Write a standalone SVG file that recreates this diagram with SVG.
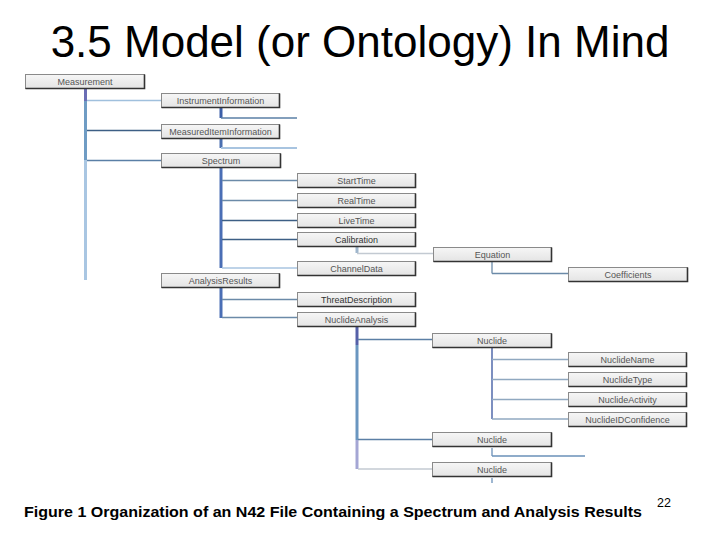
<svg xmlns="http://www.w3.org/2000/svg" width="720" height="540" viewBox="0 0 720 540">
<defs>
<linearGradient id="bg" x1="0" y1="0" x2="0" y2="1">
<stop offset="0" stop-color="#f6f6f6"/>
<stop offset="1" stop-color="#e4e4e4"/>
</linearGradient>
</defs>
<style>
.box{fill:url(#bg);stroke:#8a8a8a;stroke-width:1}
.sh{fill:none;stroke:#333;stroke-width:1.6}
.lb{font-family:"Liberation Sans",Arial,sans-serif;font-size:9px;fill:#555;text-anchor:middle}
.lbd{fill:#333}
.c{fill:none}
.t3{stroke-width:3}
.t2{stroke-width:2}
.t1{stroke-width:1.3}
</style>
<rect width="720" height="540" fill="#fff"/>
<text x="360" y="57" font-family="'Liberation Sans',Arial,sans-serif" font-size="44" fill="#000" text-anchor="middle">3.5 Model (or Ontology) In Mind</text>

<g id="connectors" class="c">
<line x1="85.5" y1="88" x2="85.5" y2="101" stroke="#6a6db5" class="t3"/>
<line x1="85.5" y1="101" x2="85.5" y2="160" stroke="#6f9cc4" class="t3"/>
<line x1="85.5" y1="160" x2="85.5" y2="280" stroke="#a9c6e2" class="t3"/>
<line x1="87" y1="100.5" x2="161" y2="100.5" stroke="#a0c0dd" class="t1"/>
<line x1="87" y1="130.5" x2="161" y2="130.5" stroke="#3d5f85" class="t1"/>
<line x1="87" y1="160.5" x2="161" y2="160.5" stroke="#5a7fa6" class="t1"/>
<line x1="221" y1="108" x2="221" y2="118" stroke="#3c5fa8" class="t3"/>
<line x1="221" y1="118" x2="297" y2="118" stroke="#5a7fa6" class="t1"/>
<line x1="221" y1="139" x2="221" y2="148" stroke="#4a6fb0" class="t3"/>
<line x1="221" y1="148" x2="297" y2="148" stroke="#a8c4e0" class="t2"/>
<line x1="221" y1="168" x2="221" y2="268" stroke="#4a6eb5" class="t3"/>
<line x1="222" y1="180.5" x2="297" y2="180.5" stroke="#6b8aa8" class="t1"/>
<line x1="222" y1="200.5" x2="297" y2="200.5" stroke="#6b8aa8" class="t1"/>
<line x1="222" y1="220.5" x2="297" y2="220.5" stroke="#3d5f85" class="t1"/>
<line x1="222" y1="239.5" x2="297" y2="239.5" stroke="#3d5f85" class="t1"/>
<line x1="222" y1="268" x2="297" y2="268" stroke="#a8c4e0" class="t1"/>
<line x1="357" y1="247" x2="357" y2="253" stroke="#9fb6cc" class="t3"/>
<line x1="357" y1="253.5" x2="433" y2="253.5" stroke="#c3cad2" class="t1"/>
<line x1="492" y1="262" x2="492" y2="273.5" stroke="#6b8aa8" class="t1"/>
<line x1="492" y1="273.5" x2="568" y2="273.5" stroke="#6b8aa8" class="t1"/>
<line x1="221" y1="288" x2="221" y2="318" stroke="#4a6eb5" class="t3"/>
<line x1="222" y1="299.5" x2="297" y2="299.5" stroke="#6b8aa8" class="t1"/>
<line x1="222" y1="317.5" x2="297" y2="317.5" stroke="#6b8aa8" class="t1"/>
<line x1="357" y1="327" x2="357" y2="345" stroke="#5560a8" class="t3"/>
<line x1="357" y1="345" x2="357" y2="440" stroke="#6a96c0" class="t3"/>
<line x1="357" y1="440" x2="357" y2="469" stroke="#a4a6d4" class="t3"/>
<line x1="358" y1="339.5" x2="432" y2="339.5" stroke="#5b7fa5" class="t1"/>
<line x1="358" y1="439.5" x2="432" y2="439.5" stroke="#5b7fa5" class="t1"/>
<line x1="358" y1="469" x2="432" y2="469" stroke="#c3cad2" class="t1"/>
<line x1="492" y1="348" x2="492" y2="419" stroke="#7d8fc0" class="t2"/>
<line x1="492" y1="359.5" x2="568" y2="359.5" stroke="#90a8c0" class="t1"/>
<line x1="492" y1="379.5" x2="568" y2="379.5" stroke="#90a8c0" class="t1"/>
<line x1="492" y1="399.5" x2="568" y2="399.5" stroke="#90a8c0" class="t1"/>
<line x1="492" y1="419" x2="568" y2="419" stroke="#90a8c0" class="t1"/>
<line x1="492" y1="448" x2="492" y2="456" stroke="#6a90b8" class="t1"/>
<line x1="492" y1="456" x2="585" y2="456" stroke="#6a90b8" class="t1"/>
<line x1="492" y1="478" x2="492" y2="483" stroke="#6a90b8" class="t1"/>
</g>

<g id="n-measurement"><rect class="box" x="25.5" y="74.5" width="119" height="14"/><path class="sh" d="M144.5 74.5V88.5H25.5"/><text class="lb" x="85" y="84.5">Measurement</text></g>
<g id="n-instrumentinformation"><rect class="box" x="161.5" y="93.5" width="118" height="14"/><path class="sh" d="M279.5 93.5V107.5H161.5"/><text class="lb" x="220.5" y="103.5">InstrumentInformation</text></g>
<g id="n-measureditem"><rect class="box" x="161.5" y="124.5" width="118" height="14"/><path class="sh" d="M279.5 124.5V138.5H161.5"/><text class="lb" x="220.5" y="134.5">MeasuredItemInformation</text></g>
<g id="n-spectrum"><rect class="box" x="161.5" y="153.5" width="119" height="14"/><path class="sh" d="M280.5 153.5V167.5H161.5"/><text class="lb" x="221" y="163.5">Spectrum</text></g>
<g id="n-starttime"><rect class="box" x="297.5" y="173.5" width="118" height="14"/><path class="sh" d="M415.5 173.5V187.5H297.5"/><text class="lb" x="356.5" y="183.5">StartTime</text></g>
<g id="n-realtime"><rect class="box" x="297.5" y="193.5" width="118" height="14"/><path class="sh" d="M415.5 193.5V207.5H297.5"/><text class="lb" x="356.5" y="203.5">RealTime</text></g>
<g id="n-livetime"><rect class="box" x="297.5" y="213.5" width="118" height="14"/><path class="sh" d="M415.5 213.5V227.5H297.5"/><text class="lb" x="356.5" y="223.5">LiveTime</text></g>
<g id="n-calibration"><rect class="box" x="297.5" y="232.5" width="118" height="14"/><path class="sh" d="M415.5 232.5V246.5H297.5"/><text class="lb lbd" x="356.5" y="242.5">Calibration</text></g>
<g id="n-equation"><rect class="box" x="433.5" y="247.5" width="118" height="14"/><path class="sh" d="M551.5 247.5V261.5H433.5"/><text class="lb" x="492.5" y="257.5">Equation</text></g>
<g id="n-channeldata"><rect class="box" x="297.5" y="261.5" width="118" height="14"/><path class="sh" d="M415.5 261.5V275.5H297.5"/><text class="lb" x="356.5" y="271.5">ChannelData</text></g>
<g id="n-coefficients"><rect class="box" x="568.5" y="267.5" width="119" height="14"/><path class="sh" d="M687.5 267.5V281.5H568.5"/><text class="lb" x="628" y="277.5">Coefficients</text></g>
<g id="n-analysisresults"><rect class="box" x="161.5" y="273.5" width="118" height="14"/><path class="sh" d="M279.5 273.5V287.5H161.5"/><text class="lb" x="220.5" y="283.5">AnalysisResults</text></g>
<g id="n-threatdescription"><rect class="box" x="297.5" y="292.5" width="118" height="14"/><path class="sh" d="M415.5 292.5V306.5H297.5"/><text class="lb lbd" x="356.5" y="302.5">ThreatDescription</text></g>
<g id="n-nuclideanalysis"><rect class="box" x="297.5" y="312.5" width="118" height="14"/><path class="sh" d="M415.5 312.5V326.5H297.5"/><text class="lb" x="356.5" y="322.5">NuclideAnalysis</text></g>
<g id="n-nuclide1"><rect class="box" x="432.5" y="333.5" width="119" height="14"/><path class="sh" d="M551.5 333.5V347.5H432.5"/><text class="lb" x="492" y="343.5">Nuclide</text></g>
<g id="n-nuclidename"><rect class="box" x="568.5" y="352.5" width="118" height="14"/><path class="sh" d="M686.5 352.5V366.5H568.5"/><text class="lb" x="627.5" y="362.5">NuclideName</text></g>
<g id="n-nuclidetype"><rect class="box" x="568.5" y="372.5" width="118" height="14"/><path class="sh" d="M686.5 372.5V386.5H568.5"/><text class="lb" x="627.5" y="382.5">NuclideType</text></g>
<g id="n-nuclideactivity"><rect class="box" x="568.5" y="392.5" width="118" height="14"/><path class="sh" d="M686.5 392.5V406.5H568.5"/><text class="lb" x="627.5" y="402.5">NuclideActivity</text></g>
<g id="n-nuclideidconfidence"><rect class="box" x="568.5" y="412.5" width="118" height="14"/><path class="sh" d="M686.5 412.5V426.5H568.5"/><text class="lb" x="627.5" y="422.5">NuclideIDConfidence</text></g>
<g id="n-nuclide2"><rect class="box" x="432.5" y="432.5" width="119" height="14"/><path class="sh" d="M551.5 432.5V446.5H432.5"/><text class="lb" x="492" y="442.5">Nuclide</text></g>
<g id="n-nuclide3"><rect class="box" x="432.5" y="462.5" width="119" height="14"/><path class="sh" d="M551.5 462.5V476.5H432.5"/><text class="lb" x="492" y="472.5">Nuclide</text></g>

<text x="24" y="517" font-family="'Liberation Sans',Arial,sans-serif" font-size="15" font-weight="bold" fill="#000" textLength="618" lengthAdjust="spacingAndGlyphs">Figure 1 Organization of an N42 File Containing a Spectrum and Analysis Results</text>
<text x="657" y="507" font-family="'Liberation Sans',Arial,sans-serif" font-size="12.5" fill="#000">22</text>
</svg>
